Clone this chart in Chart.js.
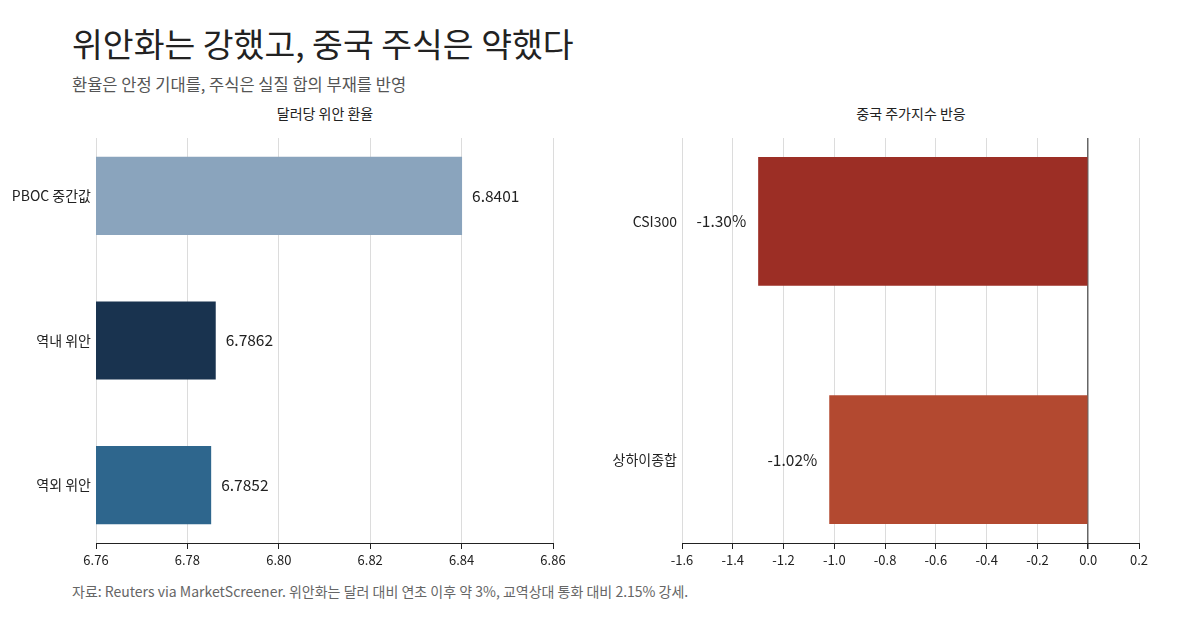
<!DOCTYPE html>
<html><head><meta charset="utf-8">
<script src="https://cdn.jsdelivr.net/npm/chart.js@4/dist/chart.umd.min.js"></script>
<style>
html,body{margin:0;padding:0;background:#fff;}
body{width:1200px;height:630px;position:relative;overflow:hidden;font-family:"Noto Sans CJK KR","Noto Sans",sans-serif;}
.t{position:absolute;white-space:nowrap;}
#title{left:72px;top:20px;font-size:33.5px;color:#222;line-height:46px;}
#sub{left:72px;top:72px;font-size:16.5px;color:#555;line-height:24px;}
.pt{top:103px;font-size:14px;color:#222;line-height:20px;transform:translateX(-50%);}
#foot{left:72px;top:580px;font-size:14px;color:#666;line-height:22px;}
.cw{position:absolute;top:130px;width:600px;height:450px;}
</style></head>
<body>
<div class="t" id="title">위안화는 강했고, 중국 주식은 약했다</div>
<div class="t" id="sub">환율은 안정 기대를, 주식은 실질 합의 부재를 반영</div>
<div class="t pt" style="left:325px">달러당 위안 환율</div>
<div class="t pt" style="left:911px">중국 주가지수 반응</div>
<div class="t" id="foot">자료: Reuters via MarketScreener. 위안화는 달러 대비 연초 이후 약 3%, 교역상대 통화 대비 2.15% 강세.</div>
<div class="cw" style="left:0"><canvas id="c1" width="600" height="450"></canvas></div>
<div class="cw" style="left:600px"><canvas id="c2" width="600" height="450"></canvas></div>
<script>
// ---- data ----
const fxCategories = ["PBOC 중간값", "역내 위안", "역외 위안"];
const fxValues = [6.8401, 6.7862, 6.7852];
const fxLabels = ["6.8401", "6.7862", "6.7852"];
const fxColors = ["#8AA4BD", "#19334F", "#2E668D"];
const fxTicks = [6.76, 6.78, 6.80, 6.82, 6.84, 6.86];

const eqCategories = ["CSI300", "상하이종합"];
const eqValues = [-1.30, -1.02];
const eqLabels = ["-1.30%", "-1.02%"];
const eqColors = ["#9C2E25", "#B34930"];
const eqTicks = [-1.6, -1.4, -1.2, -1.0, -0.8, -0.6, -0.4, -0.2, 0.0, 0.2];

Chart.defaults.font.family = "'Noto Sans CJK KR', 'Noto Sans', sans-serif";
Chart.defaults.color = "#222";

const valueLabelPlugin = {
  id: "valueLabels",
  afterDatasetsDraw(chart, args, opts) {
    const ctx = chart.ctx;
    const meta = chart.getDatasetMeta(0);
    ctx.save();
    ctx.font = "15.5px 'Noto Sans CJK KR', sans-serif";
    ctx.fillStyle = "#222";
    ctx.textBaseline = "middle";
    meta.data.forEach((el, i) => {
      const v = chart.data.datasets[0].data[i].x;
      const txt = opts.labels[i];
      if (v >= 0) { ctx.textAlign = "left"; ctx.fillText(txt, el.x + 10, el.y); }
      else { ctx.textAlign = "right"; ctx.fillText(txt, el.x - 12, el.y); }
    });
    ctx.restore();
  }
};

function makeChart(id, cats, vals, labels, colors, ticks, xmin, xmax, ymin, ymax, yWidth, padRight, decimals) {
  return new Chart(document.getElementById(id), {
    type: "bar",
    data: {
      datasets: [{
        data: cats.map((c, i) => ({ x: vals[i], y: i })),
        backgroundColor: colors,
        borderWidth: 0,
        barPercentage: 0.54,
        categoryPercentage: 1
      }]
    },
    plugins: [valueLabelPlugin],
    options: {
      indexAxis: "y",
      responsive: false,
      animation: false,
      layout: { padding: { left: 0, top: 8, right: padRight, bottom: 0 } },
      plugins: { legend: { display: false }, tooltip: { enabled: false }, valueLabels: { labels: labels } },
      scales: {
        x: {
          type: "linear",
          min: xmin, max: xmax,
          afterBuildTicks: (s) => { s.ticks = ticks.map(v => ({ value: v })); },
          afterFit: (s) => { s.height = 37; },
          ticks: { font: { size: 13 }, color: "#222", padding: 3, maxRotation: 0, autoSkip: false,
                   callback: (v) => Number(v).toFixed(decimals) },
          grid: {
            color: (c) => (c.tick && Math.abs(c.tick.value) < 1e-9) ? "#666" : "#dcdcdc",
            lineWidth: (c) => (c.tick && Math.abs(c.tick.value) < 1e-9) ? 1.5 : 1,
            tickColor: "#222", tickLength: 6, drawTicks: true
          },
          border: { display: true, color: "#222", width: 1 }
        },
        y: {
          type: "linear",
          reverse: true,
          offset: false,
          min: ymin, max: ymax,
          afterBuildTicks: (s) => { s.ticks = cats.map((c, i) => ({ value: i })); },
          afterFit: (s) => { s.width = yWidth; s.paddingTop = 0; s.paddingBottom = 0; },
          ticks: { font: { size: 14 }, color: "#222", padding: 5, autoSkip: false,
                   callback: (v) => cats[v] !== undefined ? cats[v] : "" },
          grid: { display: false, drawTicks: false, offset: false },
          border: { display: false }
        }
      }
    }
  });
}

makeChart("c1", fxCategories, fxValues, fxLabels, fxColors, fxTicks, 6.76, 6.86, -0.4, 2.4, 96, 47, 2);
makeChart("c2", eqCategories, eqValues, eqLabels, eqColors, eqTicks, -1.6, 0.2, -0.35, 1.35, 82, 61, 1);
</script>
</body></html>
